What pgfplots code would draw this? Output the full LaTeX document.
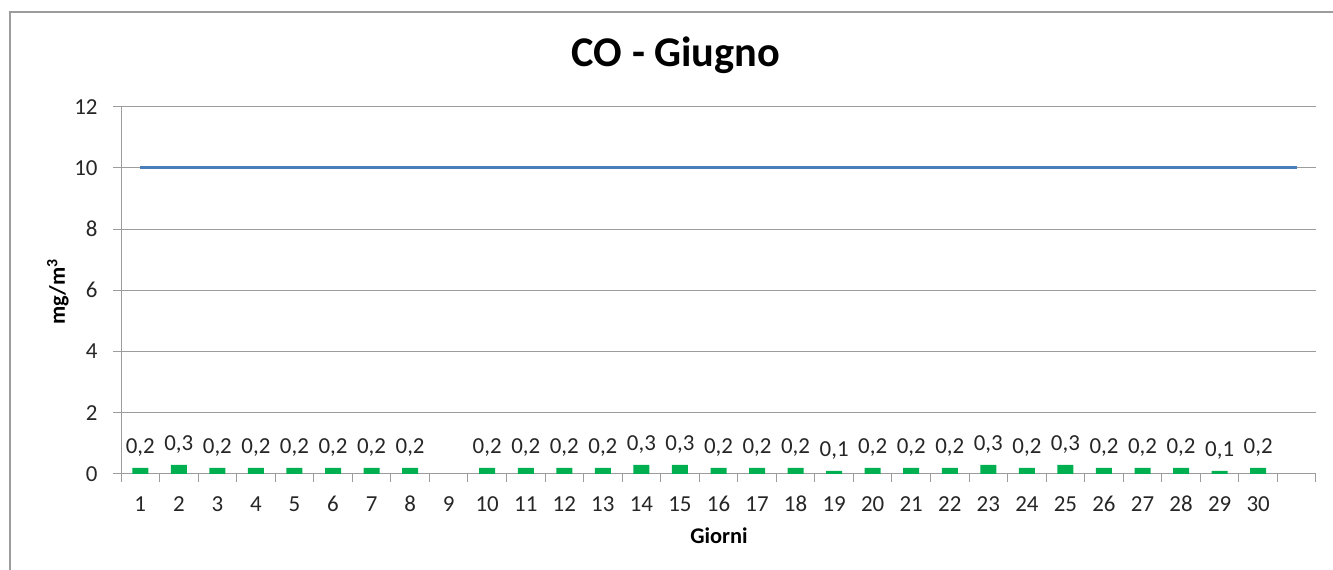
\documentclass[border=0pt]{standalone}
\usepackage{pgfplots}
\pgfplotsset{compat=1.18}
\usepackage{fontspec}
\setmainfont{Carlito}
\definecolor{bargreen}{HTML}{00B050}
\definecolor{lineblue}{HTML}{4A7EBB}
\definecolor{gridgray}{HTML}{9C9C9C}
\definecolor{txt}{HTML}{262626}
\begin{document}
\begin{tikzpicture}[x=1bp,y=1bp]
\useasboundingbox (0,0) rectangle (1333,570);
\draw[gridgray, line width=1.3bp] (10,0) -- (10,558) -- (1333,558);
\node[anchor=base, font=\fontsize{42.5}{42.5}\selectfont\bfseries, text=black] at (676,503.5) {CO - Giugno};
\node[anchor=base, font=\fontsize{22.5}{22.5}\selectfont\bfseries, text=black] at (719,26) {Giorni};
\node[rotate=90, font=\fontsize{22.5}{22.5}\selectfont\bfseries, text=black] at (58,278) {mg/m\textsuperscript{3}};
\begin{axis}[
  at={(121bp,96bp)}, anchor=south west,
  scale only axis, width=1195bp, height=367.3bp,
  xmin=0.5, xmax=31.5, ymin=0, ymax=12,
  xtick={1,...,30},
  minor xtick={0.5,1.5,...,31.5},
  ytick={0,2,...,12},
  axis x line*=bottom, axis y line*=left,
  axis line style={draw=gridgray, line width=1bp, -},
  ymajorgrids, grid style={draw=gridgray, line width=1bp},
  tick align=outside, major tick length=8bp, minor tick length=8bp,
  major x tick style={draw=none},
  minor x tick style={draw=gridgray, line width=1bp},
  ytick style={draw=gridgray, line width=1bp},
  ticklabel style={font=\fontsize{23}{23}\selectfont, text=txt},
  xticklabel style={anchor=base, yshift=-30bp},
  yticklabel style={xshift=-12bp},
  /pgf/number format/assume math mode=true,
  /pgf/number format/use comma,
  clip=false,
]
\addplot[ybar, bar width=16bp, fill=bargreen, draw=none,
  nodes near coords={\pgfmathprintnumber[fixed, fixed zerofill, precision=1, use comma, assume math mode=true]{\pgfplotspointmeta}},
  every node near coord/.append style={anchor=base, inner sep=0pt, yshift=14.7bp, font=\fontsize{23}{23}\selectfont, text=txt}]
coordinates {
(1,0.2) (2,0.3) (3,0.2) (4,0.2) (5,0.2) (6,0.2) (7,0.2) (8,0.2)
(10,0.2) (11,0.2) (12,0.2) (13,0.2) (14,0.3) (15,0.3) (16,0.2) (17,0.2)
(18,0.2) (19,0.1) (20,0.2) (21,0.2) (22,0.2) (23,0.3) (24,0.2) (25,0.3)
(26,0.2) (27,0.2) (28,0.2) (29,0.1) (30,0.2)
};
\addplot[lineblue, line width=3bp, no marks] coordinates {(1,10) (31,10)};
\end{axis}
\end{tikzpicture}
\end{document}
